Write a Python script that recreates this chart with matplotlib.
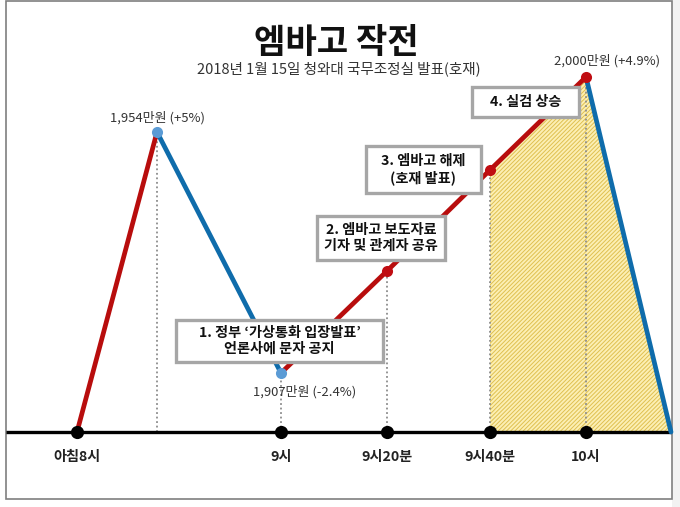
import matplotlib
matplotlib.use("Agg")
import matplotlib.pyplot as plt
from matplotlib.patches import Rectangle

plt.rcParams['font.family'] = ['Noto Sans CJK KR', 'DejaVu Sans']
plt.rcParams['hatch.linewidth'] = 0.7

# schematic positions
tick_x = [77, 281, 387, 490, 586]
tick_labels = ['아침8시', '9시', '9시20분', '9시40분', '10시']
line_x = [77, 157, 281, 387, 490, 586, 671]
line_level = [0, 300, 59, 161, 262, 355, 0]
seg_colors = ['#b80d0d', '#0f6cab', '#b80d0d', '#b80d0d', '#b80d0d', '#0f6cab']
marker_idx = [1, 2, 3, 4, 5]
marker_colors = ['#5b9bd5', '#5b9bd5', '#c00d12', '#c00d12', '#c00d12']
guide_idx = [1, 2, 3, 4, 5]
fill_idx = [4, 5, 6]

title = '엠바고 작전'
subtitle = '2018년 1월 15일 청와대 국무조정실 발표(호재)'
price_labels = [(157, 314, '1,954만원 (+5%)'), (305, 40, '1,907만원 (-2.4%)'), (607, 371, '2,000만원 (+4.9%)')]
boxes = [
    (176, 383, 70, 112, '1. 정부 ‘가상통화 입장발표’\n언론사에 문자 공지'),
    (317, 445, 172, 216, '2. 엠바고 보도자료\n기자 및 관계자 공유'),
    (366, 481, 239, 286, '3. 엠바고 해제\n(호재 발표)'),
    (472, 579, 315, 345, '4. 실검 상승'),
]

fig = plt.figure(figsize=(6.8, 5.07), dpi=100, facecolor='white')
ax = fig.add_axes([0, 0, 1, 1])
ax.set_xlim(0, 680)
ax.set_ylim(-75, 432)
ax.axis('off')

# outer frame
ax.add_patch(Rectangle((672, -75), 8, 507, fc='#f2f2f2', ec='none', zorder=0))
ax.add_patch(Rectangle((6, -67), 665.5, 498, fc='white', ec='#7f7f7f', lw=1.2, zorder=0.5))

# hatched area
fx = [line_x[i] for i in fill_idx]
fy = [line_level[i] for i in fill_idx]
ax.fill(fx + [fx[0]], fy + [0], facecolor='#fcefb4', edgecolor='#dfc050', hatch='////////', lw=0, zorder=1)

# dotted guides
for i in guide_idx:
    ax.plot([line_x[i]] * 2, [0, line_level[i]], color='#8c8c8c', lw=1.3, ls=(0, (1, 1.5)), zorder=2)

# baseline
ax.plot([6, 671], [0, 0], color='black', lw=2.4, zorder=3, solid_capstyle='butt')

# price line
for k, c in enumerate(seg_colors):
    ax.plot(line_x[k:k + 2], line_level[k:k + 2], color=c, lw=3.4, zorder=4, solid_capstyle='round')
for i, c in zip(marker_idx, marker_colors):
    ax.plot(line_x[i], line_level[i], 'o', ms=8, color=c, mec='none', zorder=5)
ax.plot(tick_x, [0] * len(tick_x), 'o', ms=9.5, color='black', mec='none', zorder=5)

# tick labels
for x, t in zip(tick_x, tick_labels):
    ax.text(x, -25, t, ha='center', va='center', fontsize=10.2, fontweight='bold', color='#222222', zorder=7)

# titles
ax.text(336, 389, title, ha='center', va='center', fontsize=24.6, fontweight='bold', color='#111111', zorder=7)
ax.text(339, 363, subtitle, ha='center', va='center', fontsize=10.5, color='#333333', zorder=7)

for x, y, t in price_labels:
    ax.text(x, y, t, ha='center', va='center', fontsize=9.4, color='#333333', zorder=7)

for x0, x1, y0, y1, t in boxes:
    ax.add_patch(Rectangle((x0, y0), x1 - x0, y1 - y0, fc='white', ec='#a6a6a6', lw=2.4, zorder=6))
    ax.text((x0 + x1) / 2, (y0 + y1) / 2, t, ha='center', va='center', fontsize=10.2, fontweight='bold',
            color='#111111', linespacing=1.2, zorder=7)

fig.savefig('out.png', dpi=100)
